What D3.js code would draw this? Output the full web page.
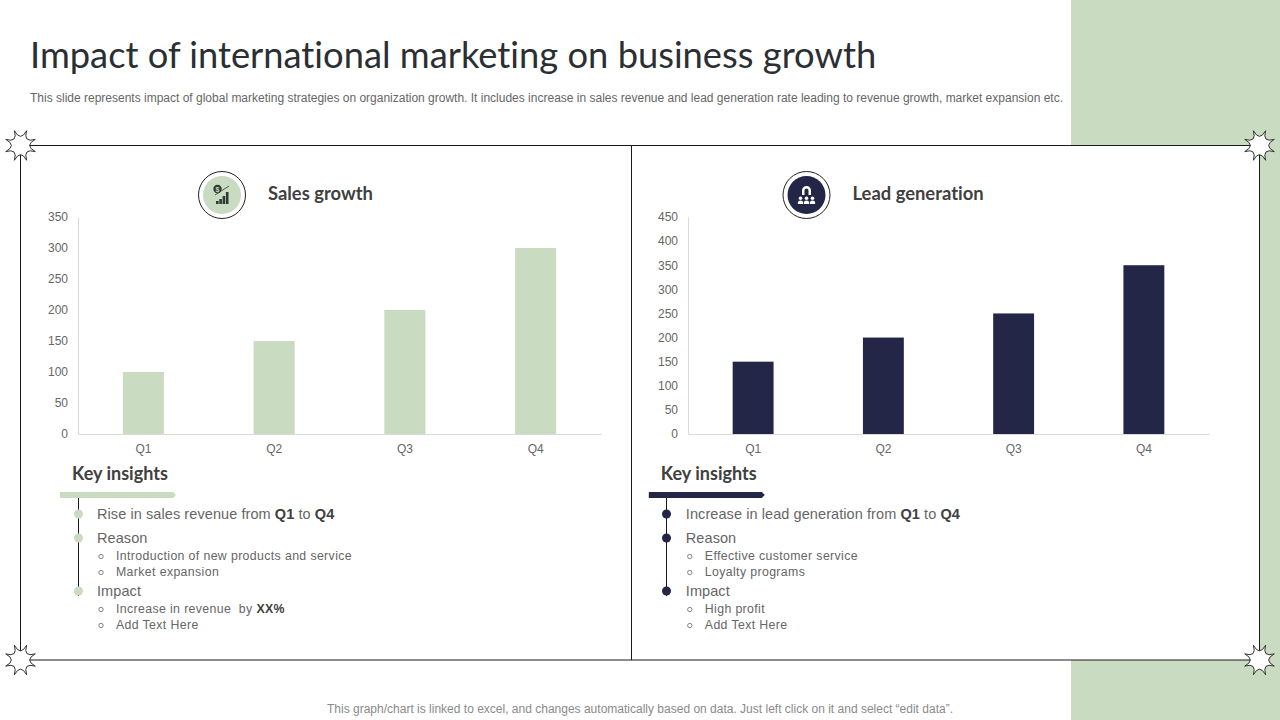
<!DOCTYPE html>
<html>
<head>
<meta charset="utf-8">
<script src="https://cdn.jsdelivr.net/npm/d3@7"></script>
<style>
  html, body { margin: 0; padding: 0; background: #fff; }
  svg { display: block; }
  text { font-family: "Liberation Sans", Arial, sans-serif; white-space: pre; }
  .lato { font-family: Lato, sans-serif; font-variant-ligatures: none; }
</style>
</head>
<body>
<div id="chart"></div>
<script>
// chart data
const quarters = ['Q1', 'Q2', 'Q3', 'Q4'];
const salesValues = [100, 150, 200, 300];
const leadValues = [150, 200, 250, 350];
const salesTicks = [0, 50, 100, 150, 200, 250, 300, 350];
const leadTicks = [0, 50, 100, 150, 200, 250, 300, 350, 400, 450];

const titleText = 'Impact of international marketing on business growth';
const subtitleText = 'This slide represents impact of global marketing strategies on organization growth. It includes increase in sales revenue and lead generation rate leading to revenue growth, market expansion etc.';
const footerText = 'This graph/chart is linked to excel, and changes automatically based on data. Just left click on it and select \u201cedit data\u201d.';

// **x** marks bold runs
const salesInsights = [
    { head: 'Rise in sales revenue from **Q1** to **Q4**', subs: [] },
    { head: 'Reason', subs: ['Introduction of new products and service', 'Market expansion'] },
    { head: 'Impact', subs: ['Increase in revenue  by **XX%**', 'Add Text Here'] }
];
const leadInsights = [
    { head: 'Increase in lead generation from **Q1** to **Q4**', subs: [] },
    { head: 'Reason', subs: ['Effective customer service', 'Loyalty programs'] },
    { head: 'Impact', subs: ['High profit', 'Add Text Here'] }
];

const green = '#c9dbc1';
const navy = '#232647';
const ink = '#404040';
const grey = '#666';

const svg = d3.select('#chart').append('svg')
    .attr('width', 1280)
    .attr('height', 720);

// background block and frame
svg.append('rect').attr('x', 1071).attr('y', 0).attr('width', 209).attr('height', 720).attr('fill', green);
svg.append('rect').attr('x', 20.5).attr('y', 145.5).attr('width', 1239).attr('height', 514.5)
    .attr('fill', '#fff').attr('stroke', '#1a1a1a').attr('stroke-width', 1);
svg.append('line').attr('x1', 631.5).attr('x2', 631.5).attr('y1', 146).attr('y2', 660).attr('stroke', '#1a1a1a');

// header and footer
svg.append('text').attr('class', 'lato').attr('x', 30).attr('y', 68)
    .attr('font-size', 36.3).attr('fill', '#2b2f33').text(titleText);
svg.append('text').attr('x', 30).attr('y', 102).attr('font-size', 12).attr('fill', grey)
    .attr('textLength', 1033).attr('lengthAdjust', 'spacingAndGlyphs').text(subtitleText);
svg.append('text').attr('x', 327).attr('y', 713).attr('font-size', 12)
    .attr('fill', '#8a8a8a').attr('textLength', 626).attr('lengthAdjust', 'spacingAndGlyphs').text(footerText);

// star corners, concave arcs between 8 tips
function starPath(tipR, ctrlR) {
    const step = Math.PI / 4;
    const pt = (r, a) => `${(r * Math.cos(a)).toFixed(2)},${(r * Math.sin(a)).toFixed(2)}`;
    let d = `M${pt(tipR, step / 2)}`;
    for (let i = 1; i <= 8; i++) {
        d += ` Q${pt(ctrlR, step * i)} ${pt(tipR, step / 2 + step * i)}`;
    }
    return d + ' Z';
}
[[20.5, 145.5], [1259.5, 145.5], [20.5, 660], [1259.5, 660]].forEach(([x, y]) => {
    svg.append('path')
        .attr('transform', `translate(${x}, ${y})`)
        .attr('d', starPath(16, 3.5))
        .attr('fill', '#fff')
        .attr('stroke', '#333')
        .attr('stroke-width', 1);
});

// write a line of text with **bold** runs
function richText(sel, str) {
    str.split('**').forEach((part, i) => {
        if (part) sel.append('tspan').attr('font-weight', i % 2 ? 'bold' : null).text(part);
    });
    sel.selectAll('tspan[font-weight="bold"]').attr('fill', ink);
}

function drawPanel(cfg) {
    const xScale = d3.scaleBand().domain(quarters).range(cfg.xRange).paddingInner(0.686).paddingOuter(0.343);
    const yScale = d3.scaleLinear().domain(cfg.yDomain).range([434, 217]);

    // y axis
    const yAxis = svg.append('g')
        .attr('transform', `translate(${cfg.xRange[0]}, 0)`)
        .call(d3.axisLeft(yScale).tickValues(cfg.ticks).tickSize(0).tickPadding(10));
    yAxis.select('.domain').attr('stroke', '#d9d9d9');
    yAxis.selectAll('text').attr('font-size', 12).attr('fill', grey)
        .style('font-family', '"Liberation Sans", Arial, sans-serif');

    // bars
    svg.append('g').selectAll('rect')
        .data(cfg.values)
        .enter()
        .append('rect')
        .attr('x', (d, i) => xScale(quarters[i]))
        .attr('y', d => yScale(d))
        .attr('width', xScale.bandwidth())
        .attr('height', d => 434 - yScale(d))
        .attr('fill', cfg.color);

    // x axis
    const xAxis = svg.append('g')
        .attr('transform', 'translate(0, 434)')
        .call(d3.axisBottom(xScale).tickSize(0).tickPadding(10));
    xAxis.select('.domain').attr('stroke', '#d9d9d9');
    xAxis.selectAll('text').attr('font-size', 12).attr('fill', grey)
        .style('font-family', '"Liberation Sans", Arial, sans-serif');

    // badge and heading
    const badge = svg.append('g').attr('transform', `translate(${cfg.badgeX}, 195)`);
    badge.append('circle').attr('r', 23.5).attr('fill', '#fff').attr('stroke', '#222').attr('stroke-width', 1);
    badge.append('circle').attr('r', 19).attr('fill', cfg.color);
    cfg.drawIcon(badge);
    svg.append('text').attr('class', 'lato').attr('x', cfg.badgeX + 46).attr('y', 200)
        .attr('font-size', 18.4).attr('font-weight', 'bold').attr('fill', '#404040').text(cfg.heading);

    // key insights
    const left = cfg.insightX;
    svg.append('text').attr('class', 'lato').attr('x', left + 12).attr('y', 480)
        .attr('font-size', 18).attr('font-weight', 'bold').attr('fill', '#404040').text('Key insights');
    svg.append('path')
        .attr('d', `M${left},492 H${left + 113} L${left + 116},495 L${left + 113},498 H${left} Z`)
        .attr('fill', cfg.color);
    svg.append('line').attr('x1', cfg.lineX).attr('x2', cfg.lineX).attr('y1', 498).attr('y2', 596)
        .attr('stroke', '#1a1a1a').attr('stroke-width', 1);

    const headY = [519, 543, 596];
    cfg.insights.forEach((item, i) => {
        svg.append('circle').attr('cx', cfg.lineX).attr('cy', headY[i] - 5).attr('r', 4.5).attr('fill', cfg.color);
        const head = svg.append('text').attr('x', left + 37).attr('y', headY[i])
            .attr('font-size', 14.5).attr('letter-spacing', 0.08).attr('fill', grey);
        richText(head, item.head);
        item.subs.forEach((s, j) => {
            const y = headY[i] + 17 + j * 16;
            svg.append('circle').attr('cx', left + 41).attr('cy', y - 3.5).attr('r', 2.2)
                .attr('fill', 'none').attr('stroke', grey).attr('stroke-width', 0.8);
            const sub = svg.append('text').attr('x', left + 56).attr('y', y)
                .attr('font-size', 12.3).attr('letter-spacing', 0.38).attr('fill', grey);
            richText(sub, s);
        });
    });
}

// dollar coin over rising bars
function salesIcon(g) {
    g.append('circle').attr('cx', -4.5).attr('cy', -6).attr('r', 4.2).attr('fill', '#2f3a32');
    g.append('text').attr('x', -4.5).attr('y', -3.5).attr('text-anchor', 'middle')
        .attr('font-size', 7).attr('font-weight', 'bold').attr('fill', green).text('$');
    g.selectAll('rect.icon').data([3, 5, 8, 12]).enter().append('rect')
        .attr('class', 'icon')
        .attr('x', (d, i) => -6 + i * 3.3)
        .attr('y', d => 9 - d)
        .attr('width', 2.6)
        .attr('height', d => d)
        .attr('fill', '#2f3a32');
    g.append('line').attr('x1', -7).attr('y1', 0).attr('x2', 7).attr('y2', -9)
        .attr('stroke', '#2f3a32').attr('stroke-width', 0.8);
}

// magnet over three people
function leadIcon(g) {
    g.append('path').attr('d', 'M-4.5,0 V-4.5 A4.5,4.5 0 0 1 4.5,-4.5 V0 H2 V-4.5 A2,2 0 0 0 -2,-4.5 V0 Z').attr('fill', '#fff');
    [-6, 0, 6].forEach(x => {
        g.append('circle').attr('cx', x).attr('cy', 3.2).attr('r', 1.8).attr('fill', '#fff');
        g.append('path').attr('d', `M${x - 2.6},9 V7.4 A2.6,2 0 0 1 ${x + 2.6},7.4 V9 Z`).attr('fill', '#fff');
    });
}

drawPanel({
    values: salesValues, ticks: salesTicks, yDomain: [0, 350], xRange: [78, 601], color: green,
    badgeX: 222, heading: 'Sales growth', insightX: 60, lineX: 78.5, insights: salesInsights, drawIcon: salesIcon
});
drawPanel({
    values: leadValues, ticks: leadTicks, yDomain: [0, 450], xRange: [688, 1209], color: navy,
    badgeX: 806.5, heading: 'Lead generation', insightX: 648.8, lineX: 666.5, insights: leadInsights, drawIcon: leadIcon
});
</script>
</body>
</html>
